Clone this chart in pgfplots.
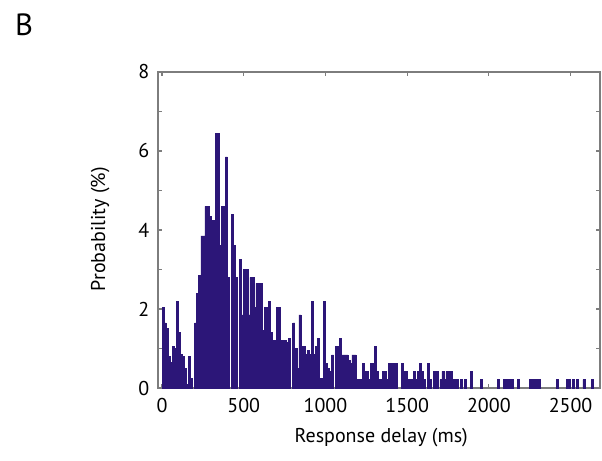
\documentclass[border=0pt]{standalone}
\usepackage{fontspec}
\setmainfont{PT Sans}
\usepackage{pgfplots}
\pgfplotsset{compat=1.18}
\usepackage{pgfplotstable}
\definecolor{barc}{RGB}{44,22,120}
\definecolor{axc}{RGB}{125,125,125}
\pgfplotstableread{
x y
6.25 2.05
18.75 1.65
31.25 1.5
43.75 0.8
56.25 0.65
68.75 1.05
81.25 1.0
93.75 2.2
106.25 1.4
118.75 0.85
131.25 0.8
143.75 0.5
156.25 0.1
168.75 0.8
181.25 0.25
206.25 1.65
218.75 2.4
231.25 2.85
243.75 3.85
256.25 3.85
268.75 4.6
281.25 4.6
293.75 4.35
306.25 4.25
318.75 4.25
331.25 6.45
343.75 6.45
356.25 3.6
368.75 4.6
381.25 4.6
393.75 5.85
406.25 2.8
431.25 4.4
443.75 3.6
456.25 2.8
481.25 3.25
493.75 1.85
506.25 3.0
518.75 3.0
531.25 1.85
543.75 2.8
556.25 2.8
568.75 2.05
581.25 2.65
593.75 2.65
606.25 2.65
618.75 1.45
631.25 2.05
643.75 2.05
656.25 2.2
668.75 1.4
681.25 1.2
693.75 1.2
706.25 2.05
718.75 2.05
731.25 1.2
743.75 1.2
756.25 1.2
768.75 1.15
781.25 1.26
806.25 1.65
818.75 1.0
831.25 0.5
843.75 1.85
856.25 1.05
868.75 1.05
881.25 0.85
893.75 0.95
906.25 0.85
918.75 2.2
931.25 0.85
943.75 1.05
956.25 1.26
968.75 0.25
981.25 0.25
993.75 2.2
1006.25 0.63
1018.75 0.5
1031.25 0.42
1043.75 0.84
1068.75 1.05
1081.25 1.05
1093.75 1.26
1106.25 0.84
1118.75 0.84
1131.25 0.84
1143.75 0.7
1156.25 0.63
1168.75 0.84
1181.25 0.84
1193.75 0.21
1206.25 0.21
1218.75 0.21
1231.25 0.63
1243.75 0.42
1256.25 0.42
1268.75 0.21
1281.25 0.63
1293.75 0.63
1306.25 1.05
1318.75 0.42
1331.25 0.21
1343.75 0.21
1356.25 0.42
1368.75 0.42
1381.25 0.21
1393.75 0.63
1406.25 0.63
1418.75 0.63
1431.25 0.63
1468.75 0.63
1481.25 0.42
1493.75 0.42
1506.25 0.21
1518.75 0.21
1531.25 0.21
1543.75 0.42
1556.25 0.21
1568.75 0.42
1581.25 0.63
1593.75 0.42
1606.25 0.21
1631.25 0.63
1643.75 0.21
1668.75 0.42
1681.25 0.42
1706.25 0.21
1718.75 0.42
1731.25 0.21
1743.75 0.42
1756.25 0.42
1768.75 0.42
1781.25 0.21
1793.75 0.21
1806.25 0.21
1831.25 0.21
1856.25 0.21
1893.75 0.42
1956.25 0.21
2056.25 0.21
2093.75 0.21
2106.25 0.21
2118.75 0.21
2131.25 0.21
2143.75 0.21
2181.25 0.21
2256.25 0.21
2268.75 0.21
2281.25 0.21
2293.75 0.21
2306.25 0.21
2418.75 0.21
2481.25 0.21
2493.75 0.21
2518.75 0.21
2543.75 0.21
2581.25 0.21
2631.25 0.21
}\histdata
\begin{document}
\begin{tikzpicture}
\path[use as bounding box] (-118.5pt,-54pt) rectangle (333pt,291pt);
\begin{axis}[
  at={(0pt,0pt)}, anchor=south west,
  scale only axis, width=331.5pt, height=237pt,
  xmin=-24.5, xmax=2680, ymin=0, ymax=8,
  xtick={0,500,1000,1500,2000,2500},
  ytick={0,1,2,3,4,5,6,7,8},
  yticklabels={0,,2,,4,,6,,8},
  tick align=inside,
  major tick length=3pt,
  axis line style={axc, line width=1pt},
  every tick/.style={axc, line width=0.8pt},
  /pgf/number format/assume math mode=true,
  /pgf/number format/1000 sep={},
  ticklabel style={font=\fontsize{15}{18}\selectfont, text=black},
  xticklabel style={yshift=-4pt},
  yticklabel style={xshift=-3pt},
  label style={font=\fontsize{15}{18}\selectfont},
  xlabel={Response delay (ms)},
  ylabel={Probability (\%)},
  xlabel style={at={(axis description cs:0.505,-0.158)}, anchor=center},
  ylabel style={at={(axis description cs:-0.131,0.503)}, anchor=center},
]
\addplot[ybar, bar width=12.5, bar shift=0pt, fill=barc, draw=barc, line width=0.45pt] table[x=x,y=y] {\histdata};
\end{axis}
\node[font=\fontsize{23}{26}\selectfont, anchor=center] at (-100.5pt,272.25pt) {B};
\end{tikzpicture}
\end{document}
